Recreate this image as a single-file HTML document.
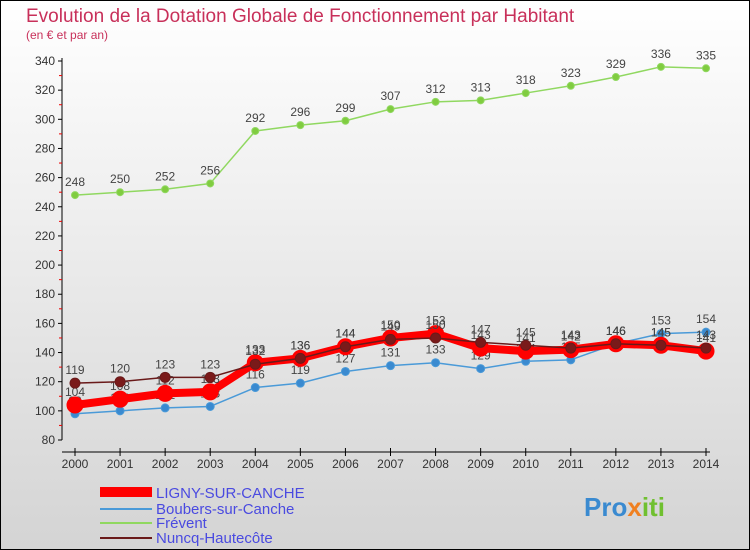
<!DOCTYPE html>
<html><head><meta charset="utf-8"><style>
body{margin:0;width:750px;height:550px;overflow:hidden;font-family:"Liberation Sans",sans-serif}
svg{display:block}
</style></head><body>
<svg width="750" height="550">
<defs><linearGradient id="bg" x1="0" y1="0" x2="0" y2="1"><stop offset="0" stop-color="#ffffff"/><stop offset="1" stop-color="#d4d4d4"/></linearGradient></defs>
<rect x="0.5" y="0.5" width="749" height="549" fill="url(#bg)" stroke="#000"/>
<text x="26" y="22" font-size="19" fill="#c8305a">Evolution de la Dotation Globale de Fonctionnement par Habitant</text>
<text x="26" y="39" font-size="12" fill="#c8305a">(en € et par an)</text>
<g id="axes"></g><g id="series"></g>
<g>
<rect x="100" y="487" width="52" height="10" fill="#f00"/>
<text x="156" y="498" font-size="15" fill="#4a4ae0">LIGNY-SUR-CANCHE</text>
<line x1="100" y1="509" x2="152" y2="509" stroke="#4a9ad8" stroke-width="2"/>
<text x="156" y="514" font-size="15" fill="#4a4ae0">Boubers-sur-Canche</text>
<line x1="100" y1="523" x2="152" y2="523" stroke="#90d860" stroke-width="2"/>
<text x="156" y="528" font-size="15" fill="#4a4ae0">Frévent</text>
<line x1="100" y1="538" x2="152" y2="538" stroke="#6a1a1a" stroke-width="2"/>
<text x="156" y="543" font-size="15" fill="#4a4ae0">Nuncq-Hautecôte</text>
</g>
<text x="584" y="516" font-size="26" font-weight="bold" fill="#3a8ad0">Pro<tspan fill="#f08020">x</tspan><tspan fill="#70c030">iti</tspan></text>
</svg>
<script>
const years=[2000,2001,2002,2003,2004,2005,2006,2007,2008,2009,2010,2011,2012,2013,2014];
const ligny=[104,108,112,113,133,136,144,150,153,143,141,142,146,145,141];
const boubers=[98,100,102,103,116,119,127,131,133,129,134,135,146,153,154];
const frevent=[248,250,252,256,292,296,299,307,312,313,318,323,329,336,335];
const nuncq=[119,120,123,123,132,136,144,149,150,147,145,143,146,145,143];
const yTicks=[80,100,120,140,160,180,200,220,240,260,280,300,320,340];
const NS="http://www.w3.org/2000/svg";
const X=i=>75+i*(706-75)/(years.length-1);
const Y=v=>440-(v-80)*(440-61)/260;
function mk(t,a,p){const e=document.createElementNS(NS,t);for(const k in a)e.setAttribute(k,a[k]);p.appendChild(e);return e;}
const ax=document.getElementById('axes'),sr=document.getElementById('series');
const yl=mk('line',{x1:62,y1:58,x2:62,y2:440,stroke:'#000'},ax);


const xl=mk('line',{x1:62,y1:452,x2:710,y2:452,stroke:'#000'},ax);


yTicks.forEach(v=>{const y=Y(v);mk('line',{x1:58,y1:y,x2:62,y2:y,stroke:'#000'},ax);
if(v<340)mk('line',{x1:59,y1:Y(v+10),x2:62,y2:Y(v+10),stroke:'#e00'},ax);
const t=mk('text',{x:55,y:y+4,'font-size':12,'text-anchor':'end',fill:'#333'},ax);t.textContent=v;

});
years.forEach((yr,i)=>{const x=X(i);mk('line',{x1:x,y1:448,x2:x,y2:456,stroke:'#000'},ax);
const t=mk('text',{x:x,y:468,'font-size':12,'text-anchor':'middle',fill:'#333'},ax);t.textContent=yr;

});
function series(d,name,color,w,r,fill){const g=mk('g',{},sr);


mk('polyline',{points:d.map((v,i)=>X(i)+','+Y(v)).join(' '),fill:'none',stroke:color,'stroke-width':w,'stroke-linejoin':'round'},g);
d.forEach((v,i)=>{const c=mk('circle',{cx:X(i),cy:Y(v),r:r,fill:fill,stroke:color,'stroke-width':1},g);


const t=mk('text',{x:X(i),y:Y(v)-9,'font-size':12,'text-anchor':'middle',fill:'#444'},g);t.textContent=v;

});}
series(frevent,'frevent-series','#90d860',1.5,3.5,'#80cc40');
series(boubers,'boubers-series','#4a9ad8',1.5,4,'#3a8ad0');
series(ligny,'ligny-series','#f00',8,8,'#f00');
series(nuncq,'nuncq-series','#6a1a1a',1.5,5,'#7a1a1a');
</script>
</body></html>
